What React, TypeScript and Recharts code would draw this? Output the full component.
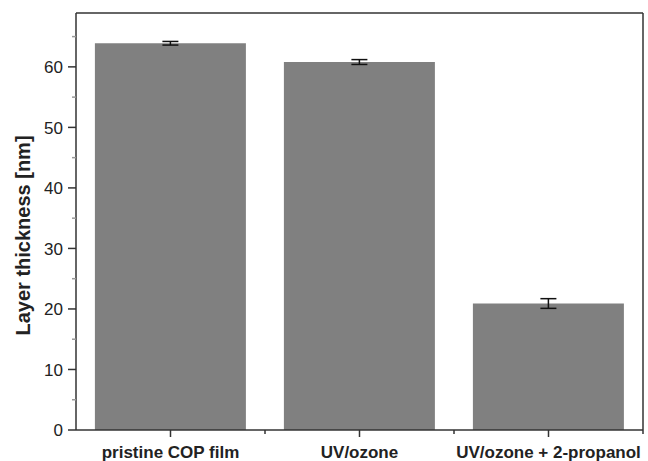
import { BarChart, Bar, XAxis, YAxis, ErrorBar, Label, ReferenceLine } from "recharts";

const categories = ["pristine COP film", "UV/ozone", "UV/ozone + 2-propanol"];
const thickness = [63.9, 60.8, 20.9];
const thicknessErr = [0.3, 0.4, 0.8];
const yTicks = [0, 5, 10, 15, 20, 25, 30, 35, 40, 45, 50, 55, 60, 65];
const yMax = 68.9;

const data = categories.map((name, i) => ({ name, value: thickness[i], err: thicknessErr[i] }));

const W = 648;
const H = 461;
const PLOT_TOP = 13;
const PLOT_LEFT = 76;
const PLOT_RIGHT = 5;
const BAND = (W - PLOT_LEFT - PLOT_RIGHT) / categories.length;
const AXIS = "#333";
const FONT = "Arial, 'Liberation Sans', sans-serif";

function YTick(props: any) {
  const { x, y, payload } = props;
  const major = payload.value % 10 === 0;
  return (
    <g>
      <line x1={x - (major ? 8 : 4)} x2={x} y1={y} y2={y} stroke={major ? AXIS : "#999"} strokeWidth={1.5} />
      {major && (
        <text x={x - 13} y={y} dy="0.36em" textAnchor="end" fontSize={17} fill="#222" fontFamily={FONT}>
          {payload.value}
        </text>
      )}
    </g>
  );
}

function XTick(props: any) {
  const { x, y, payload, index } = props;
  return (
    <g>
      {index === categories.length - 1 && (
        // right side of the plot box
        <line x1={x + BAND / 2} x2={x + BAND / 2} y1={PLOT_TOP} y2={y} stroke={AXIS} strokeWidth={1.5} />
      )}
      <line x1={x} x2={x} y1={y} y2={y + 7} stroke={AXIS} strokeWidth={1.5} />
      <line x1={x + BAND / 2} x2={x + BAND / 2} y1={y} y2={y + 4} stroke={AXIS} strokeWidth={1.5} />
      <text x={x} y={y + 28} textAnchor="middle" fontSize={17} fontWeight="bold" fill="#222" fontFamily={FONT}>
        {payload.value}
      </text>
    </g>
  );
}

export default function App() {
  return (
    <div style={{ position: "absolute", left: 0, top: 0, width: W, height: H, background: "#fff" }}>
      <BarChart
        width={W}
        height={H}
        data={data}
        margin={{ top: PLOT_TOP, right: PLOT_RIGHT, left: 0, bottom: 0 }}
        barCategoryGap="10%"
      >
        <XAxis
          dataKey="name"
          height={31}
          tickSize={0}
          tickMargin={0}
          tickLine={false}
          tick={<XTick />}
          axisLine={{ stroke: AXIS, strokeWidth: 1.5 }}
          interval={0}
        />
        <YAxis
          width={PLOT_LEFT}
          domain={[0, yMax]}
          ticks={yTicks}
          interval={0}
          tickSize={0}
          tickMargin={0}
          tickLine={false}
          tick={<YTick />}
          axisLine={{ stroke: AXIS, strokeWidth: 1.5 }}
        >
          <Label
            content={(p: any) => {
              const vb = p.viewBox;
              const cx = 23;
              const cy = vb.y + vb.height / 2 + 14;
              return (
                <text
                  x={cx}
                  y={cy}
                  transform={`rotate(-90 ${cx} ${cy})`}
                  textAnchor="middle"
                  dominantBaseline="central"
                  fontSize={20}
                  fontWeight="bold"
                  fill="#222"
                  fontFamily={FONT}
                >
                  Layer thickness [nm]
                </text>
              );
            }}
          />
        </YAxis>
        {/* top side of the plot box */}
        <ReferenceLine y={yMax} stroke={AXIS} strokeWidth={1.5} ifOverflow="visible" />
        <Bar dataKey="value" fill="#808080" isAnimationActive={false}>
          <ErrorBar dataKey="err" width={8} stroke="#111" strokeWidth={1.5} direction="y" />
        </Bar>
      </BarChart>
    </div>
  );
}
